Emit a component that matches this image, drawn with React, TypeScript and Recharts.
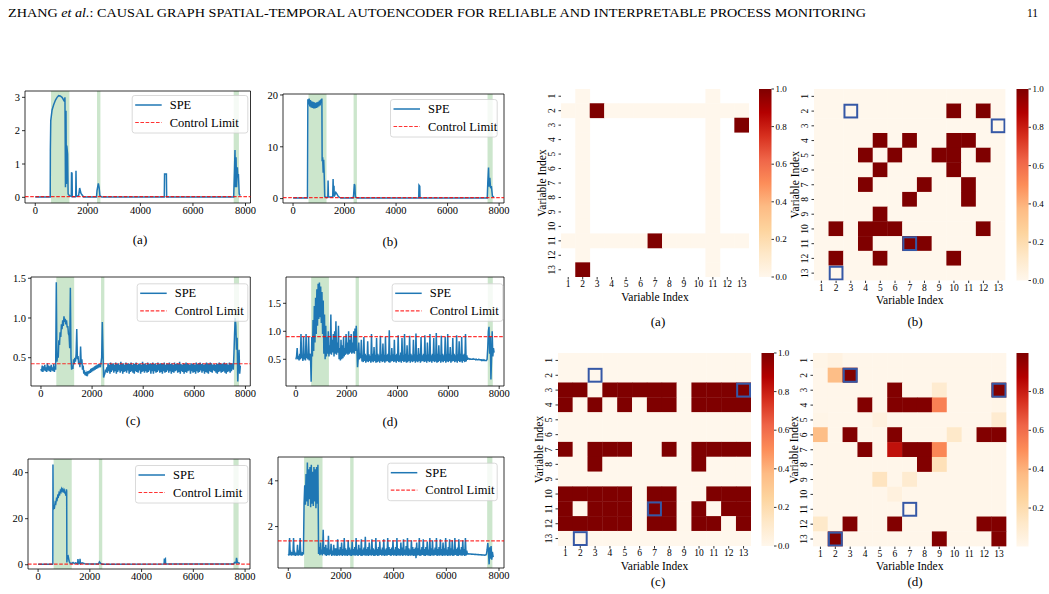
import React from "react";
import {
  LineChart,
  Line,
  XAxis,
  YAxis,
  ReferenceArea,
  ReferenceLine,
  ScatterChart,
  Scatter,
} from "recharts";

const FONT = '"Liberation Serif", "Times New Roman", serif';

/* ---------------- SPE monitoring traces ---------------- */

const X_DOMAIN: [number, number] = [-390, 8190];
const X_TICKS = [0, 2000, 4000, 6000, 8000];
// fault windows, shaded on every trace
const FAULTS: [number, number][] = [
  [600, 1300],
  [2350, 2480],
  [7550, 7750],
];

// sparse traces: [sample, SPE]
const speA: [number, number][] = [
  [0, 0.01], [570, 0.01], [575, 1.4], [590, 2.3], [640, 2.62], [700, 2.78], [770, 2.92],
  [830, 3.0], [890, 3.05], [950, 3.04], [1020, 3.0], [1080, 2.92], [1110, 2.88], [1130, 3.0],
  [1150, 0.3], [1170, 2.6], [1185, 0.4], [1200, 1.55], [1230, 1.3], [1250, 0.1], [1300, 0.05],
  [1370, 0.03], [1380, 0.75], [1400, 0.72], [1410, 0.02], [1540, 0.02], [1550, 0.8], [1565, 0.03],
  [1650, 0.05], [1690, 0.28], [1740, 0.12], [1840, 0.01], [2330, 0.01], [2350, 0.2], [2400, 0.42],
  [2430, 0.3], [2460, 0.05], [2530, 0.01], [4910, 0.01], [4920, 0.7], [4990, 0.7], [5000, 0.01],
  [7550, 0.01], [7580, 0.8], [7600, 1.42], [7620, 0.3], [7640, 1.2], [7660, 0.3], [7690, 0.9],
  [7710, 0.6], [7730, 0.7], [7760, 0.1], [7800, 0.05],
];

const speB: [number, number][] = [
  [0, 0.1], [560, 0.1], [575, 19.2], [600, 18.2], [625, 19.3], [650, 17.8], [675, 19.0],
  [700, 17.6], [725, 18.8], [750, 17.5], [775, 18.7], [800, 17.4], [825, 18.6], [850, 17.4],
  [875, 18.5], [900, 17.5], [925, 18.6], [950, 17.6], [975, 18.7], [1000, 17.8], [1025, 18.9],
  [1050, 18.0], [1075, 19.1], [1100, 18.5], [1120, 19.3], [1130, 7.2], [1150, 8.0], [1170, 5.0],
  [1190, 7.5], [1210, 4.5], [1230, 0.4], [1300, 0.2], [1350, 0.3], [1360, 3.5], [1375, 0.3],
  [1540, 0.3], [1555, 3.8], [1570, 0.5], [1590, 2.5], [1600, 0.4], [1660, 1.2], [1700, 0.9],
  [1760, 0.4], [1850, 0.1], [2330, 0.1], [2350, 0.6], [2380, 2.8], [2400, 2.5], [2420, 0.3],
  [2500, 0.1], [4880, 0.1], [4890, 2.6], [4920, 2.4], [4930, 0.1], [7540, 0.1], [7560, 3.0],
  [7590, 6.0], [7610, 2.3], [7640, 4.0], [7670, 2.0], [7700, 2.4], [7740, 0.5], [7800, 0.3],
];

const speE: [number, number][] = [
  [0, 0.2], [560, 0.2], [570, 0.3], [575, 43.5], [585, 24.0], [610, 25.5], [635, 25.0],
  [660, 27.0], [685, 26.6], [710, 28.6], [735, 28.2], [760, 30.0], [785, 29.6], [810, 31.2],
  [835, 30.7], [860, 32.2], [885, 31.6], [910, 32.9], [935, 32.1], [960, 32.8], [985, 31.9],
  [1010, 32.4], [1035, 31.2], [1060, 30.8], [1080, 30.0], [1095, 32.8], [1105, 32.0], [1112, 1.0],
  [1130, 3.5], [1160, 3.8], [1200, 1.5], [1230, 0.8], [1300, 0.5], [1350, 1.0], [1400, 0.5],
  [1450, 0.8], [1530, 0.4], [1540, 2.5], [1560, 0.5], [1610, 0.6], [1620, 2.6], [1640, 0.4],
  [1700, 0.8], [1800, 0.4], [2000, 0.3], [2330, 0.3], [2370, 1.2], [2420, 0.5], [2500, 0.2],
  [4870, 0.3], [4880, 2.7], [4900, 2.2], [4920, 2.5], [4930, 0.3], [7550, 0.3], [7600, 1.0],
  [7650, 0.8], [7670, 3.0], [7700, 1.0], [7800, 0.6],
];

// dense traces: one value every STEP samples, starting at sample 0
const STEP = 25;

const speC = [
  // 0
  0.36, 0.33, 0.40, 0.32, 0.39, 0.34, 0.41, 0.33, 0.38, 0.32, 0.43, 0.34,
  0.40, 0.33, 0.39, 0.32, 0.41, 0.34, 0.38, 0.33, 0.42, 0.32, 0.39, 0.35,
  // 600
  1.45, 0.45, 0.55, 0.5, 0.72, 0.66, 0.82, 0.76, 0.92, 0.86, 0.97, 0.9,
  1.02, 0.95, 0.99, 0.92, 0.97, 0.88, 0.9, 0.8, 0.78, 0.62, 1.38, 0.5,
  // 1200
  0.35, 0.4, 0.36, 0.48, 0.42, 0.5, 0.45, 0.55, 0.86, 0.48, 0.52, 0.42,
  0.45, 0.38, 0.64, 0.42, 0.48, 0.35, 0.4, 0.3, 0.34, 0.28, 0.32, 0.27,
  // 1800
  0.31, 0.29, 0.33, 0.3, 0.34, 0.31, 0.36, 0.32, 0.37, 0.33, 0.38, 0.34,
  0.39, 0.35, 0.4, 0.36, 0.41, 0.37, 0.42, 0.38, 0.42, 0.38, 0.44, 0.5,
  // 2400
  0.95, 0.6, 0.25, 0.28, 0.3, 0.35, 0.32, 0.38,
  // 2600
  0.31, 0.43, 0.33, 0.41, 0.30, 0.44, 0.32, 0.42, 0.34, 0.43, 0.31, 0.41,
  0.33, 0.44, 0.30, 0.42, 0.32, 0.43, 0.34, 0.41, 0.31, 0.45, 0.33, 0.42,
  0.30, 0.43, 0.32, 0.41, 0.33, 0.44, 0.31, 0.42, 0.34, 0.43, 0.30, 0.42,
  0.32, 0.44, 0.33, 0.41, 0.31, 0.43, 0.30, 0.42, 0.33, 0.44, 0.32, 0.41,
  0.31, 0.42, 0.34, 0.43, 0.30, 0.41, 0.32, 0.45, 0.33, 0.42, 0.31, 0.43,
  0.33, 0.41, 0.31, 0.44, 0.32, 0.42, 0.34, 0.43, 0.30, 0.42, 0.33, 0.44,
  0.30, 0.42, 0.33, 0.43, 0.31, 0.41, 0.32, 0.44, 0.34, 0.42, 0.31, 0.43,
  0.32, 0.43, 0.30, 0.42, 0.33, 0.44, 0.31, 0.41, 0.32, 0.43, 0.34, 0.42,
  0.31, 0.44, 0.33, 0.42, 0.30, 0.43, 0.32, 0.41, 0.31, 0.44, 0.33, 0.42,
  0.34, 0.43, 0.31, 0.42, 0.32, 0.45, 0.30, 0.42, 0.33, 0.41, 0.32, 0.43,
  0.30, 0.42, 0.32, 0.44, 0.31, 0.43, 0.33, 0.42, 0.34, 0.41, 0.30, 0.43,
  0.33, 0.42, 0.31, 0.43, 0.32, 0.41, 0.30, 0.44, 0.33, 0.42, 0.31, 0.43,
  0.32, 0.44, 0.34, 0.42, 0.31, 0.43, 0.33, 0.41, 0.30, 0.42, 0.32, 0.44,
  0.31, 0.43, 0.30, 0.42, 0.33, 0.44, 0.32, 0.43, 0.31, 0.41, 0.34, 0.42,
  0.33, 0.41, 0.31, 0.43, 0.30, 0.42, 0.32, 0.44, 0.33, 0.43, 0.31, 0.42,
  0.32, 0.43, 0.33, 0.44, 0.31, 0.42, 0.30, 0.43, 0.32, 0.41, 0.33, 0.44,
  0.31, 0.43, 0.33, 0.42,
  // 7500
  0.42, 0.35, 0.55, 0.8, 1.0, 0.9, 0.6, 0.75, 0.2, 0.45, 0.6, 0.3, 0.4,
];

const speD = [
  // 0
  0.5, 0.55, 0.7, 0.5, 0.56, 0.48, 0.6, 0.5, 0.95, 0.52, 0.58, 0.47,
  0.9, 0.5, 0.6, 0.48, 0.95, 0.52, 0.57, 0.5, 0.9, 0.48, 0.6, 0.55,
  // 600
  0.1, 0.9, 0.55, 1.2, 0.65, 1.45, 0.8, 1.6, 0.95, 1.75, 1.1, 1.85,
  1.22, 1.87, 1.25, 1.8, 1.15, 1.7, 0.95, 1.55, 0.6, 1.3, 0.5, 1.1,
  // 1200
  0.55, 0.9, 0.6, 1.0, 0.55, 0.75, 0.6, 1.3, 0.58, 0.85, 0.62, 0.95,
  0.55, 1.0, 0.6, 1.18, 0.58, 0.8, 0.62, 1.1, 0.5, 0.7, 0.48, 0.85,
  // 1800
  0.5, 0.75, 0.52, 0.9, 0.55, 0.7, 0.58, 0.95, 0.6, 0.8, 0.58, 1.0,
  0.6, 0.85, 0.62, 0.95, 0.6, 0.8, 0.62, 1.0, 0.6, 1.05, 0.65, 1.1,
  // 2400
  0.7, 0.36, 0.5, 0.8, 0.5, 0.6, 0.52, 0.85,
  // 2600
  0.46, 0.58, 0.45, 0.9, 0.47, 0.6, 0.44, 0.57, 0.46, 0.82, 0.45, 0.59,
  0.47, 0.56, 0.44, 0.95, 0.46, 0.6, 0.45, 0.72, 0.47, 0.58, 0.44, 0.88,
  0.45, 0.6, 0.46, 0.57, 0.44, 0.92, 0.47, 0.59, 0.45, 0.78, 0.46, 0.58,
  0.44, 0.9, 0.46, 0.58, 0.47, 0.6, 0.45, 1.02, 0.44, 0.57, 0.46, 0.7,
  0.47, 0.59, 0.45, 0.85, 0.46, 0.58, 0.44, 0.6, 0.47, 0.93, 0.45, 0.57,
  0.46, 0.62, 0.44, 0.88, 0.47, 0.57, 0.45, 0.95, 0.46, 0.6, 0.44, 0.75,
  0.45, 0.58, 0.47, 0.92, 0.44, 0.6, 0.46, 0.57, 0.45, 0.85, 0.47, 0.59,
  0.44, 0.96, 0.46, 0.58, 0.45, 0.7, 0.47, 0.6, 0.44, 0.9, 0.46, 0.57,
  0.47, 0.6, 0.45, 0.93, 0.46, 0.58, 0.44, 0.8, 0.47, 0.59, 0.45, 0.95,
  0.46, 0.57, 0.44, 0.6, 0.47, 0.88, 0.45, 0.58, 0.46, 0.97, 0.44, 0.6,
  0.45, 0.75, 0.47, 0.58, 0.44, 0.92, 0.46, 0.6, 0.45, 0.57, 0.47, 0.9,
  0.44, 0.59, 0.46, 0.95, 0.45, 0.6, 0.47, 0.72, 0.44, 0.58, 0.46, 0.88,
  0.47, 0.6, 0.45, 0.57, 0.46, 0.93, 0.44, 0.59, 0.47, 0.82, 0.45, 0.6,
  0.46, 0.9, 0.44, 0.58, 0.47, 0.6, 0.45, 0.95, 0.46, 0.57, 0.49, 0.52,
  // 6800
  0.51, 0.5, 0.51, 0.5, 0.5, 0.5, 0.5, 0.51, 0.5, 0.5, 0.5, 0.49,
  0.5, 0.49, 0.49, 0.49, 0.5, 0.49, 0.49, 0.49, 0.48, 0.49, 0.48, 0.48,
  0.49, 0.48, 0.48, 0.48,
  // 7500
  0.48, 0.5, 0.7, 1.0, 1.08, 0.6, 0.9, 0.14, 0.5, 1.0, 0.55, 0.7, 0.62,
];

const speF = [
  // 0
  0.8, 0.74, 1.5, 0.76, 0.85, 0.73, 0.88, 0.75, 1.5, 0.74, 0.84, 0.72,
  0.86, 0.75, 1.2, 0.73, 0.85, 0.76, 1.5, 0.74, 0.82, 0.73, 0.88, 0.78,
  // 600
  3.0, 3.8, 2.95, 4.3, 3.1, 4.8, 2.9, 4.5, 3.2, 4.6, 2.85, 4.7,
  3.0, 4.4, 2.9, 4.6, 3.1, 4.5, 2.8, 4.6, 3.0, 4.7, 0.8, 1.1,
  // 1200
  0.75, 1.3, 0.78, 1.0, 0.74, 1.86, 0.8, 1.1, 0.75, 1.2, 0.72, 1.05,
  0.76, 1.6, 0.74, 1.0, 0.78, 1.25, 0.72, 0.95, 0.75, 1.2, 0.73, 1.05,
  // 1800
  0.74, 1.05, 0.72, 1.45, 0.75, 1.0, 0.73, 1.1, 0.76, 1.3, 0.72, 1.02,
  0.75, 1.5, 0.73, 1.05, 0.74, 0.98, 0.72, 1.4, 0.76, 1.08, 0.73, 1.0,
  0.72, 1.35, 0.75, 1.02, 0.74, 1.1, 0.73, 1.5, 0.75, 1.0, 0.72, 1.2,
  0.76, 1.05, 0.73, 1.45, 0.72, 1.0, 0.75, 1.08, 0.74, 1.55, 0.73, 1.02,
  0.74, 1.1, 0.72, 1.3, 0.76, 1.0, 0.73, 1.45, 0.75, 1.05, 0.72, 1.0,
  0.73, 1.5, 0.75, 1.02, 0.72, 1.1, 0.74, 1.35, 0.76, 1.0, 0.73, 1.08,
  0.75, 1.45, 0.72, 1.0, 0.74, 1.05, 0.73, 1.5, 0.76, 1.1, 0.75, 1.02,
  0.72, 1.08, 0.76, 1.4, 0.73, 1.0, 0.75, 1.1, 0.72, 1.5, 0.74, 1.05,
  0.74, 1.02, 0.73, 1.3, 0.75, 1.08, 0.72, 1.45, 0.76, 1.0, 0.73, 1.15,
  0.75, 1.5, 0.72, 1.05, 0.74, 1.0, 0.73, 1.4, 0.75, 1.1, 0.72, 1.02,
  0.73, 1.08, 0.62, 1.3, 0.74, 1.05, 0.75, 1.5, 0.72, 1.0, 0.74, 1.1,
  0.76, 1.45, 0.73, 1.02, 0.72, 1.1, 0.75, 1.35, 0.74, 1.0, 0.73, 1.5,
  0.72, 1.05, 0.75, 1.4, 0.73, 1.0, 0.74, 1.08, 0.76, 1.5, 0.72, 1.02,
  0.74, 1.1, 0.73, 1.45, 0.75, 1.02, 0.72, 1.3, 0.74, 1.05, 0.73, 1.5,
  0.75, 1.0, 0.72, 1.1, 0.74, 1.45, 0.73, 1.05, 0.75, 1.4, 0.72, 1.0,
  0.74, 1.5, 0.76, 1.02, 0.73, 1.08, 0.72, 1.45, 0.75, 1.0, 0.74, 1.1,
  0.73, 1.4, 0.75, 1.02, 0.72, 1.5, 0.74, 0.95,
  // 6800
  0.81, 0.8, 0.81, 0.8, 0.8, 0.8, 0.79, 0.8, 0.79, 0.79, 0.79, 0.78,
  0.79, 0.78, 0.78, 0.78, 0.77, 0.78, 0.77, 0.77, 0.77, 0.76, 0.77, 0.76,
  0.76, 0.76, 0.75, 0.76,
  // 7500
  0.76, 0.8, 1.0, 1.28, 0.9, 0.35, 1.1, 0.6, 1.15, 0.55, 0.9, 0.7, 0.72,
];

const limitA = 0.02;
const limitB = 0.2;
const limitC = 0.424;
const limitD = 0.905;
const limitE = 0.3;
const limitF = 1.377;

type Pt = { t: number; v: number };
const fromPairs = (p: [number, number][]): Pt[] => p.map(([t, v]) => ({ t, v }));
const fromSteps = (vals: number[]): Pt[] => vals.map((v, i) => ({ t: i * STEP, v }));
const oneDecimal = (v: number) => v.toFixed(1);

type Box = { x: number; y: number; w: number; h: number };

const spePanels = [
  { key: "a", data: fromPairs(speA), box: { x: 24.5, y: 91, w: 225.5, h: 112 }, yDomain: [-0.17, 3.19] as [number, number], yTicks: [0, 1, 2, 3], limit: limitA, legend: { x: 131.7, y: 95, w: 116.6 } },
  { key: "b", data: fromPairs(speB), box: { x: 283, y: 94, w: 221, h: 109 }, yDomain: [-0.85, 20.19] as [number, number], yTicks: [0, 10, 20], limit: limitB, legend: { x: 390, y: 99, w: 107.7 } },
  { key: "c", data: fromSteps(speC), box: { x: 30.7, y: 277, w: 219.3, h: 109 }, yDomain: [0.144, 1.516] as [number, number], yTicks: [0.5, 1.0, 1.5], yFmt: oneDecimal, limit: limitC, legend: { x: 136.7, y: 283.3, w: 111.6 } },
  { key: "d", data: fromSteps(speD), box: { x: 286, y: 277, w: 218, h: 109 }, yDomain: [0.023, 1.97] as [number, number], yTicks: [0.5, 1.0, 1.5], yFmt: oneDecimal, limit: limitD, legend: { x: 391.7, y: 283.3, w: 111.6 } },
  { key: "e", data: fromPairs(speE), box: { x: 28, y: 459, w: 222, h: 110 }, yDomain: [-1.86, 45.94] as [number, number], yTicks: [0, 20, 40], limit: limitE, legend: { x: 135, y: 465, w: 113.3 } },
  { key: "f", data: fromSteps(speF), box: { x: 278, y: 457, w: 226, h: 111 }, yDomain: [0.19, 5.04] as [number, number], yTicks: [2, 4], limit: limitF, legend: { x: 387.3, y: 462.7, w: 110.4 } },
];

const SPE_BLUE = "#1f77b4";
const LIMIT_RED = "#ff0000";
const SPE_WIDTH = 1.5;
const PAD_L = 36;
const PAD_T = 8;
const PAD_R = 8;
const PAD_B = 24;

const axisTick = { fontSize: 10.5, fill: "#000", fontFamily: FONT };
const axisTickLine = { stroke: "#000", strokeWidth: 0.8 };

function SpePanel({
  data,
  box,
  yDomain,
  yTicks,
  yFmt,
  limit,
}: {
  data: Pt[];
  box: Box;
  yDomain: [number, number];
  yTicks: number[];
  yFmt?: (v: number) => string;
  limit: number;
}) {
  return (
    <div style={{ position: "absolute", left: box.x - PAD_L, top: box.y - PAD_T }}>
      <LineChart
        width={box.w + PAD_L + PAD_R}
        height={box.h + PAD_T + PAD_B}
        data={data}
        margin={{ top: PAD_T, right: PAD_R, bottom: 0, left: 0 }}
      >
        <XAxis
          type="number"
          dataKey="t"
          domain={X_DOMAIN}
          ticks={X_TICKS}
          interval={0}
          allowDataOverflow
          height={PAD_B}
          axisLine={false}
          tickLine={axisTickLine}
          tickSize={3}
          tickMargin={1}
          tick={axisTick}
        />
        <YAxis
          type="number"
          domain={yDomain}
          ticks={yTicks}
          interval={0}
          allowDataOverflow
          width={PAD_L}
          axisLine={false}
          tickLine={axisTickLine}
          tickSize={3}
          tickMargin={2}
          tick={axisTick}
          tickFormatter={yFmt}
        />
        {FAULTS.map(([a, b]) => (
          <ReferenceArea key={a} x1={a} x2={b} fill="#008000" fillOpacity={0.2} strokeWidth={0} />
        ))}
        <Line
          type="linear"
          dataKey="v"
          stroke={SPE_BLUE}
          strokeWidth={SPE_WIDTH}
          dot={false}
          activeDot={false}
          isAnimationActive={false}
        />
        <ReferenceLine y={limit} stroke={LIMIT_RED} strokeOpacity={0.8} strokeWidth={1.2} strokeDasharray="3.6 1.6" />
        <ReferenceArea
          x1={X_DOMAIN[0]}
          x2={X_DOMAIN[1]}
          y1={yDomain[0]}
          y2={yDomain[1]}
          fill="none"
          stroke="#000"
          strokeWidth={0.8}
        />
      </LineChart>
    </div>
  );
}

function SpeLegend({ x, y, w }: { x: number; y: number; w: number }) {
  return (
    <g transform={`translate(${x},${y})`}>
      <rect x={0.5} y={0.5} width={w - 1} height={37.5} rx={2.5} fill="#fff" fillOpacity={0.8} stroke="#d0d0d0" strokeWidth={0.8} />
      <line x1={3.5} x2={30} y1={10} y2={10} stroke={SPE_BLUE} strokeWidth={SPE_WIDTH} />
      <text x={38} y={10} dominantBaseline="central" fontSize={12.5}>SPE</text>
      <line x1={3.5} x2={30} y1={27.5} y2={27.5} stroke={LIMIT_RED} strokeOpacity={0.8} strokeWidth={1.2} strokeDasharray="3.6 1.6" />
      <text x={38} y={27.5} dominantBaseline="central" fontSize={12.5}>Control Limit</text>
    </g>
  );
}

/* ---------------- causal adjacency heatmaps ---------------- */

const VAR_TICKS = [1, 2, 3, 4, 5, 6, 7, 8, 9, 10, 11, 12, 13];
const N_VARS = 13;

// ground-truth graph: "." = masked entry
const adjTrue = [
  ".0........0..",
  "0010000000000",
  ".0........0.1",
  ".0........0..",
  ".0........0..",
  ".0........0..",
  ".0........0..",
  ".0........0..",
  ".0........0..",
  ".0........0..",
  "0000001000000",
  ".0........0..",
  ".1........0..",
];

const adjB = [
  "0000000000000",
  "0000000001010",
  "0000000000000",
  "0000101001100",
  "0001010011010",
  "0000100001000",
  "0001000100100",
  "0000001000100",
  "0000100000000",
  "0101110000010",
  "0001001100000",
  "0100100001000",
  "0000000000000",
];

const adjC = [
  "0000000000000",
  "0000000000000",
  "1101111101111",
  "1010101101111",
  "0000000000000",
  "0000000000000",
  "1011100101111",
  "0010000001000",
  "0000000000000",
  "1111101100111",
  "1011101101011",
  "1111101101101",
  "0000000000000",
];

const adjD = [
  [0.02, 0.04, 0.01, 0.01, 0.01, 0.01, 0.01, 0.01, 0.01, 0.01, 0.01, 0.01, 0.01],
  [0.01, 0.36, 0.99, 0.01, 0.01, 0.01, 0.01, 0.01, 0.01, 0.01, 0.01, 0.01, 0.01],
  [0.01, 0.01, 0.01, 0.01, 0.01, 0.99, 0.01, 0.01, 0.1, 0.01, 0.01, 0.01, 0.99],
  [0.01, 0.01, 0.01, 0.99, 0.01, 0.99, 0.99, 0.99, 0.54, 0.01, 0.01, 0.01, 0.02],
  [0.02, 0.01, 0.01, 0.01, 0.05, 0.01, 0.01, 0.01, 0.01, 0.01, 0.01, 0.01, 0.1],
  [0.36, 0.01, 0.99, 0.01, 0.01, 0.99, 0.01, 0.01, 0.01, 0.12, 0.01, 0.99, 0.99],
  [0.01, 0.01, 0.01, 0.99, 0.01, 0.83, 0.99, 0.99, 0.52, 0.01, 0.01, 0.01, 0.01],
  [0.01, 0.01, 0.01, 0.01, 0.01, 0.01, 0.01, 0.99, 0.17, 0.01, 0.01, 0.01, 0.01],
  [0.01, 0.01, 0.01, 0.01, 0.15, 0.01, 0.1, 0.01, 0.01, 0.01, 0.01, 0.01, 0.01],
  [0.01, 0.01, 0.01, 0.01, 0.01, 0.05, 0.01, 0.01, 0.01, 0.01, 0.01, 0.01, 0.01],
  [0.01, 0.01, 0.01, 0.01, 0.01, 0.01, 0.0, 0.01, 0.01, 0.01, 0.01, 0.01, 0.01],
  [0.12, 0.01, 0.99, 0.01, 0.01, 0.99, 0.01, 0.01, 0.01, 0.01, 0.01, 0.99, 0.99],
  [0.01, 0.99, 0.01, 0.01, 0.01, 0.01, 0.01, 0.01, 0.99, 0.01, 0.01, 0.01, 0.99],
];

// true edges [row, col], outlined on the learned graphs
const trueEdges: [number, number][] = [
  [2, 3],
  [3, 13],
  [11, 7],
  [13, 2],
];

const OR_RD = ["#fff7ec", "#fee8c8", "#fdd49e", "#fdbb84", "#fc8d59", "#ef6548", "#d7301f", "#b30000", "#7f0000"];

function hexRgb(h: string) {
  const n = parseInt(h.slice(1), 16);
  return [(n >> 16) & 255, (n >> 8) & 255, n & 255];
}

function orRd(t: number) {
  const u = Math.min(1, Math.max(0, t)) * (OR_RD.length - 1);
  const i = Math.min(OR_RD.length - 2, Math.floor(u));
  const f = u - i;
  const a = hexRgb(OR_RD[i]);
  const b = hexRgb(OR_RD[i + 1]);
  const c = a.map((v, k) => Math.round(v + (b[k] - v) * f));
  return `rgb(${c[0]},${c[1]},${c[2]})`;
}

const bits = (rows: string[]) => rows.map((s) => s.split("").map((ch) => (ch === "." ? null : Number(ch))));

type HCell = { c: number; r: number; fill: string };

function heatCells(rows: (number | null)[][], lo: number, hi: number): HCell[] {
  const out: HCell[] = [];
  rows.forEach((row, ri) =>
    row.forEach((v, ci) => {
      if (v === null) return;
      out.push({ c: ci + 1, r: ri + 1, fill: orRd((v - lo) / (hi - lo)) });
    })
  );
  return out;
}

const edgeBoxes = trueEdges.map(([r, c]) => ({ r, c }));

const heatPanels = [
  { key: "ha", gx: 561, gy: 89, size: 188, cells: heatCells(bits(adjTrue), 0, 1), boxes: [], cb: { x: 759, w: 12.5, lo: 0, hi: 1, ticks: [0, 0.2, 0.4, 0.6, 0.8, 1.0] } },
  { key: "hb", gx: 814, gy: 89, size: 191.5, cells: heatCells(bits(adjB), 0, 1), boxes: edgeBoxes, cb: { x: 1016.5, w: 12, lo: 0, hi: 1, ticks: [0, 0.2, 0.4, 0.6, 0.8, 1.0] } },
  { key: "hc", gx: 558, gy: 353, size: 193, cells: heatCells(bits(adjC), 0, 1), boxes: edgeBoxes, cb: { x: 761.5, w: 12.5, lo: 0, hi: 1, ticks: [0, 0.2, 0.4, 0.6, 0.8, 1.0] } },
  { key: "hd", gx: 813, gy: 353, size: 193.5, cells: heatCells(adjD, 0.002, 0.998), boxes: edgeBoxes, cb: { x: 1016.5, w: 12, lo: 0.002, hi: 0.998, ticks: [0.2, 0.4, 0.6, 0.8] } },
];

const HM_L = 30;
const HM_T = 4;
const HM_R = 4;
const HM_B = 22;
const EDGE_BLUE = "#3658a6";

const heatXTick = (p: any) => (
  <text x={p.x} y={p.y + 4.5} textAnchor="middle" dominantBaseline="central" fontSize={9.5} fontFamily={FONT} fill="#000">
    {p.payload.value}
  </text>
);

const heatYTick = (p: any) => {
  const x = p.x - 6.8;
  return (
    <text
      x={x}
      y={p.y}
      transform={`rotate(-90 ${x} ${p.y})`}
      textAnchor="middle"
      dominantBaseline="central"
      fontSize={9.5}
      fontFamily={FONT}
      fill="#000"
    >
      {p.payload.value}
    </text>
  );
};

function HeatPanel({
  gx,
  gy,
  size,
  cells,
  boxes,
}: {
  gx: number;
  gy: number;
  size: number;
  cells: HCell[];
  boxes: { r: number; c: number }[];
}) {
  const cell = size / N_VARS;
  return (
    <div style={{ position: "absolute", left: gx - HM_L, top: gy - HM_T }}>
      <ScatterChart
        width={size + HM_L + HM_R}
        height={size + HM_T + HM_B}
        margin={{ top: HM_T, right: HM_R, bottom: 0, left: 0 }}
      >
        <XAxis
          type="number"
          dataKey="c"
          domain={[0.5, 13.5]}
          ticks={VAR_TICKS}
          interval={0}
          allowDataOverflow
          height={HM_B}
          axisLine={false}
          tickLine={axisTickLine}
          tickSize={2.5}
          tickMargin={0}
          tick={heatXTick}
        />
        <YAxis
          type="number"
          dataKey="r"
          domain={[0.5, 13.5]}
          reversed
          ticks={VAR_TICKS}
          interval={0}
          allowDataOverflow
          width={HM_L}
          axisLine={false}
          tickLine={axisTickLine}
          tickSize={2.5}
          tickMargin={0}
          tick={heatYTick}
        />
        <Scatter
          data={cells}
          isAnimationActive={false}
          shape={(p: any) => (
            <rect
              x={p.cx - cell / 2 - 0.2}
              y={p.cy - cell / 2 - 0.2}
              width={cell + 0.4}
              height={cell + 0.4}
              fill={p.payload.fill}
            />
          )}
        />
        <Scatter
          data={boxes}
          isAnimationActive={false}
          shape={(p: any) => (
            <rect
              x={p.cx - cell / 2 + 1}
              y={p.cy - cell / 2 + 1}
              width={cell - 2}
              height={cell - 2}
              fill="none"
              stroke={EDGE_BLUE}
              strokeWidth={2}
            />
          )}
        />
      </ScatterChart>
    </div>
  );
}

function ColorBar({
  id,
  x,
  y,
  w,
  h,
  lo,
  hi,
  ticks,
}: {
  id: string;
  x: number;
  y: number;
  w: number;
  h: number;
  lo: number;
  hi: number;
  ticks: number[];
}) {
  return (
    <g>
      <defs>
        <linearGradient id={id} x1="0" y1="1" x2="0" y2="0">
          {OR_RD.map((c, i) => (
            <stop key={i} offset={i / (OR_RD.length - 1)} stopColor={c} />
          ))}
        </linearGradient>
      </defs>
      <rect x={x} y={y} width={w} height={h} fill={`url(#${id})`} />
      {ticks.map((t) => {
        const ty = y + h - ((t - lo) / (hi - lo)) * h;
        return (
          <g key={t}>
            <line x1={x + w} x2={x + w + 2.5} y1={ty} y2={ty} stroke="#000" strokeWidth={0.8} />
            <text x={x + w + 4} y={ty} dominantBaseline="central" fontSize={9}>
              {t.toFixed(1)}
            </text>
          </g>
        );
      })}
    </g>
  );
}

const captions = [
  { t: "(a)", x: 140, y: 239 },
  { t: "(b)", x: 390, y: 241 },
  { t: "(c)", x: 133, y: 420 },
  { t: "(d)", x: 390, y: 421 },
  { t: "(a)", x: 658, y: 321 },
  { t: "(b)", x: 915, y: 321 },
  { t: "(c)", x: 658, y: 581 },
  { t: "(d)", x: 915, y: 581 },
];

export default function App() {
  return (
    <div
      style={{
        position: "absolute",
        left: 0,
        top: 0,
        width: 1049,
        height: 594,
        background: "#fff",
        overflow: "hidden",
        fontFamily: FONT,
      }}
    >
      {spePanels.map((p) => (
        <SpePanel key={p.key} data={p.data} box={p.box} yDomain={p.yDomain} yTicks={p.yTicks} yFmt={p.yFmt} limit={p.limit} />
      ))}
      {heatPanels.map((p) => (
        <HeatPanel key={p.key} gx={p.gx} gy={p.gy} size={p.size} cells={p.cells} boxes={p.boxes} />
      ))}
      <svg
        width={1049}
        height={594}
        style={{ position: "absolute", left: 0, top: 0, pointerEvents: "none" }}
        fontFamily={FONT}
        fill="#000"
      >
        <text x={8} y={17} fontSize={11.5} textLength={858} lengthAdjust="spacingAndGlyphs">
          ZHANG <tspan fontStyle="italic">et al.</tspan>: CAUSAL GRAPH SPATIAL-TEMPORAL AUTOENCODER FOR RELIABLE AND
          INTERPRETABLE PROCESS MONITORING
        </text>
        <text x={1038} y={17} fontSize={11.5} textAnchor="end">
          11
        </text>

        {spePanels.map((p) => (
          <SpeLegend key={p.key} x={p.legend.x} y={p.legend.y} w={p.legend.w} />
        ))}

        {heatPanels.map((p) => (
          <g key={p.key}>
            <text x={p.gx + p.size / 2} y={p.gy + p.size + 19.5} textAnchor="middle" dominantBaseline="central" fontSize={11.5}>
              Variable Index
            </text>
            <text
              x={p.gx - 19.5}
              y={p.gy + p.size / 2}
              transform={`rotate(-90 ${p.gx - 19.5} ${p.gy + p.size / 2})`}
              textAnchor="middle"
              dominantBaseline="central"
              fontSize={11.5}
            >
              Variable Index
            </text>
            <ColorBar id={`cb-${p.key}`} x={p.cb.x} y={p.gy} w={p.cb.w} h={p.size} lo={p.cb.lo} hi={p.cb.hi} ticks={p.cb.ticks} />
          </g>
        ))}

        {captions.map((c, i) => (
          <text key={i} x={c.x} y={c.y} textAnchor="middle" dominantBaseline="central" fontSize={13}>
            {c.t}
          </text>
        ))}
      </svg>
    </div>
  );
}
